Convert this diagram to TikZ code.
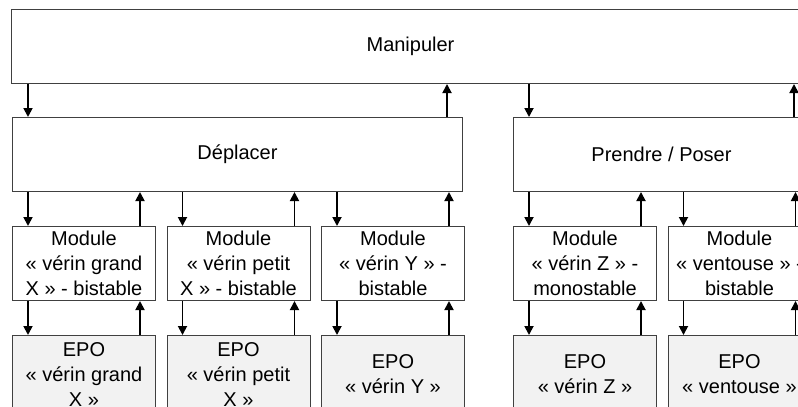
\documentclass[tikz,border=0pt]{standalone}
\usepackage{fontspec}
\setmainfont{Liberation Sans}
\usetikzlibrary{arrows.meta,positioning}
\begin{document}
\begin{tikzpicture}[
    x=1pt, y=-1pt,
    >={Triangle[length=9pt,width=9pt]},
    node distance=34pt and 10.5pt,
    every node/.style={font=\fontsize{20}{25}\selectfont},
    fbox/.style={draw=black!75, line width=1pt, align=center, inner sep=0pt, anchor=north west},
    task/.style={fbox, minimum height=74pt},
    module/.style={fbox, minimum width=143pt, minimum height=74pt, fill=white},
    epo/.style={fbox, minimum width=143pt, minimum height=78pt, fill=black!5},
    link/.style={->, line width=1.8pt, black}
]
\useasboundingbox (0,0) rectangle (798,407);
\clip (0,0) rectangle (798,407);

\node[task, minimum width=798pt] (manip) at (11,9) {Manipuler};
\node[task, minimum width=450pt] (depl) at (12,117) {Déplacer};
\node[task, minimum width=296pt] (prendre) at (513,117) {Prendre / Poser};

\node[module] (m1) at (12,226) {Module\\« vérin grand\\X » - bistable};
\node[module, right=of m1] (m2) {Module\\« vérin petit\\X » - bistable};
\node[module, right=of m2] (m3) {Module\\« vérin Y » -\\bistable};
\node[module] (m4) at (513,226) {Module\\« vérin Z » -\\monostable};
\node[module, right=of m4] (m5) {Module\\« ventouse » -\\bistable};

\node[epo, below=of m1] (e1) {EPO\\« vérin grand\\X »};
\node[epo, below=of m2] (e2) {EPO\\« vérin petit\\X »};
\node[epo, below=of m3] (e3) {EPO\\« vérin Y »};
\node[epo, below=of m4] (e4) {EPO\\« vérin Z »};
\node[epo, below=of m5] (e5) {EPO\\« ventouse »};

\foreach \p/\c in {manip/depl, manip/prendre, depl/m1, depl/m2, depl/m3, prendre/m4, prendre/m5,
                   m1/e1, m2/e2, m3/e3, m4/e4, m5/e5} {
  \path ([xshift=16pt]\c.north west) coordinate (dn) ([xshift=-16pt]\c.north east) coordinate (up);
  \draw[link] (dn |- \p.south) -- (dn);
  \draw[link] (up) -- (up |- \p.south);
}

\end{tikzpicture}
\end{document}
